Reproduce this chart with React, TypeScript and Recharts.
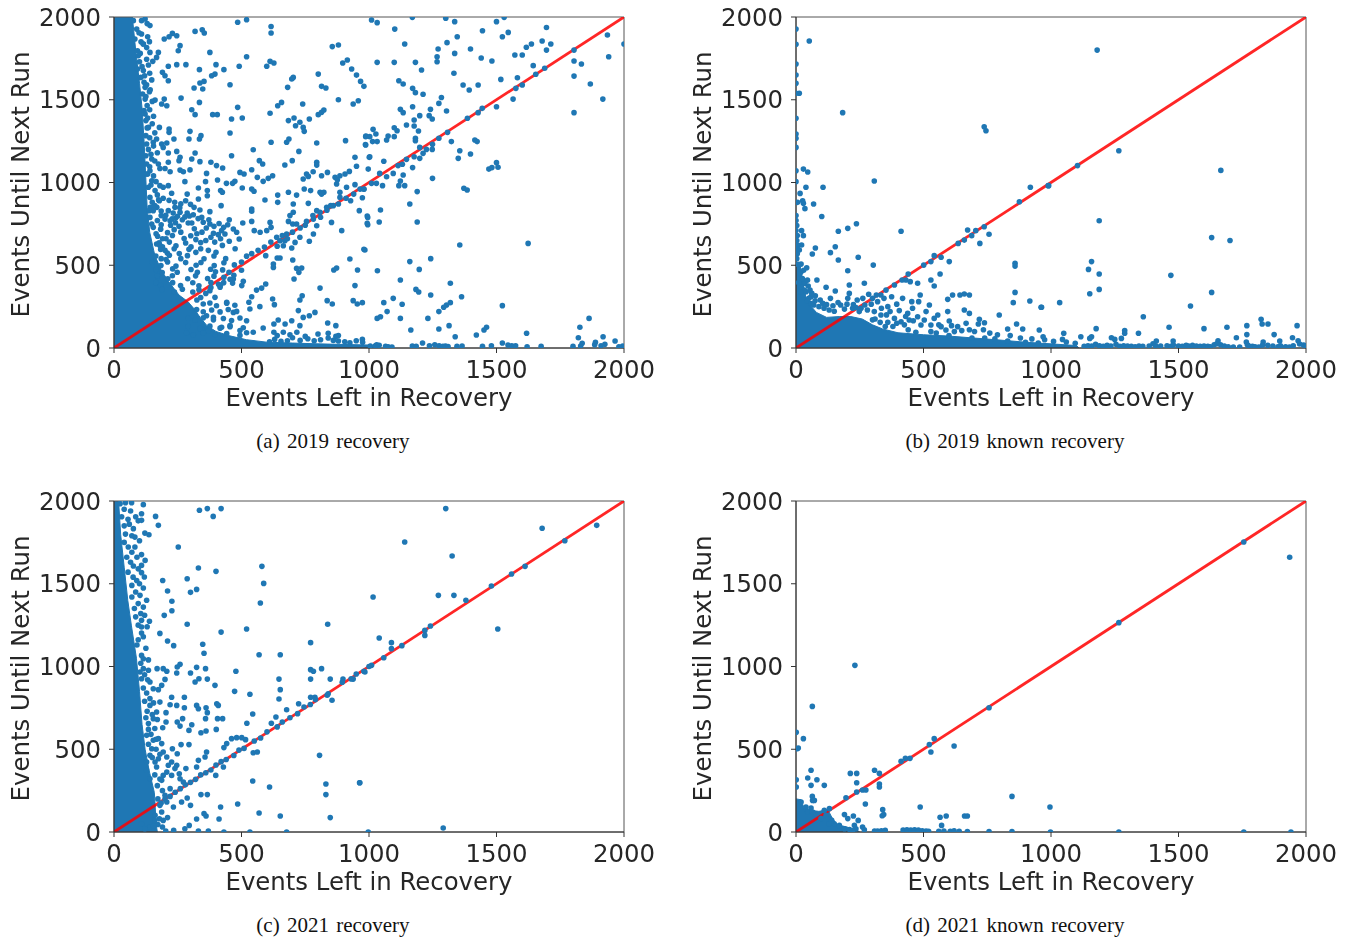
import React from "react";
import { ComposedChart, Area, Scatter, Line, XAxis, YAxis, ReferenceArea } from "recharts";

type P = [number, number];
const axisTicks = [0, 500, 1000, 1500, 2000];
const xLabel = "Events Left in Recovery";
const yLabel = "Events Until Next Run";
const captions = ["(a) 2019 recovery", "(b) 2019 known recovery", "(c) 2021 recovery", "(d) 2021 known recovery"];
const diagonal = [{ x: 0, y: 0 }, { x: 2000, y: 2000 }];

// Outlines of the areas where the dots merge into a solid mass.
const massA: P[] = [[0,2000],[72,2000],[85,1800],[100,1600],[110,1450],[118,1250],[124,1050],[130,850],[140,700],[160,560],[185,470],[215,400],[255,320],[290,280],[315,235],[340,180],[365,135],[400,100],[450,75],[520,50],[600,35],[700,30],[800,25],[1000,18],[1040,0]];
const massB: P[] = [[0,520],[15,510],[25,420],[35,320],[55,260],[80,215],[120,185],[170,190],[215,190],[260,175],[300,140],[340,115],[400,92],[500,80],[600,72],[700,60],[800,48],[900,35],[1000,25],[1100,15],[1110,0]];
const massC: P[] = [[0,2000],[18,2000],[26,1800],[40,1600],[54,1400],[68,1250],[88,1050],[100,850],[110,650],[122,500],[138,370],[158,240],[160,200],[165,50],[170,0]];
const massD: P[] = [[0,200],[20,195],[30,150],[60,130],[90,125],[125,135],[140,90],[160,45],[200,30],[240,10],[250,0]];

const pointsA: P[] = [
[485,1968],[520,1984],[616,1943],[616,1903],[318,1913],[346,1923],[354,1903],[229,1901],[216,1881],[197,1867],[246,1887],[259,1827],[252,1796],[139,1851],[115,1837],[141,1786],[174,1786],[167,1756],[152,1732],[376,1786],[520,1760],[282,1712],[246,1712],[213,1702],[190,1666],[200,1645],[213,1615],[335,1682],[400,1712],[431,1682],[491,1702],[396,1655],[383,1645],[455,1591],[337,1601],[353,1611],[314,1571],[348,1565],[599,1702],[612,1732],[627,1722],[703,1635],[697,1625],[681,1575],[801,1655],[814,1581],[831,1571],[856,1821],[880,1831],[897,1722],[915,1740],[932,1686],[951,1649],[967,1611],[980,1581],
[139,1549],[263,1510],[335,1484],[197,1504],[161,1498],[187,1474],[207,1464],[305,1440],[318,1410],[387,1410],[405,1410],[485,1454],[461,1384],[503,1390],[642,1464],[657,1484],[612,1418],[740,1474],[684,1374],[706,1390],[729,1364],[712,1343],[742,1333],[746,1309],[766,1384],[801,1410],[814,1424],[823,1438],[880,1500],[938,1474],[958,1494],
[298,1309],[294,1263],[335,1263],[341,1283],[455,1299],[178,1333],[216,1323],[216,1303],[235,1263],[167,1263],[154,1243],[187,1233],[207,1239],[193,1212],[246,1188],[213,1178],[318,1178],[259,1152],[255,1132],[305,1142],[461,1162],[546,1198],[616,1243],[677,1243],[686,1263],[795,1239],[908,1253],[987,1277],[987,1227],[725,1188],[699,1132],[670,1106],[570,1132],[583,1112],[795,1122],[795,1105],[945,1152],[951,1098],[1001,1152],
[148,1142],[174,1112],[213,1122],[200,1085],[220,1065],[259,1075],[272,1065],[337,1126],[380,1122],[402,1102],[426,1088],[298,1076],[363,1055],[494,1061],[510,1051],[540,1077],[562,1031],[585,1007],[605,1025],[622,1041],
[278,1005],[359,1005],[406,1015],[441,995],[465,995],[474,1007],[503,967],[540,961],[549,947],[592,894],[642,924],[642,880],[684,941],[716,924],[746,961],[771,951],[742,1021],[755,1051],[762,1037],[781,1065],[814,1041],[837,1061],[808,941],[823,941],[867,1031],[886,1041],[906,1051],[923,1067],[873,991],[886,941],[876,1017],[912,971],[945,987],[980,961],
[180,981],[193,971],[213,981],[226,935],[287,930],[331,967],[331,900],[366,951],[366,920],[418,951],[425,941],[420,860],[376,824],[337,834],[314,850],[287,816],[239,850],[213,830],[259,820],[242,785],[220,769],[200,779],[291,755],[305,755],[344,789],[376,749],[540,840],[540,826],[505,755],[540,765],[446,745],[422,709],[468,719],[481,699],[435,689],[390,693],[380,669],[409,685],[491,659],[550,709],[573,699],[599,709],[612,759],[616,729],[703,820],[690,800],[684,765],[701,749],[716,749],[755,765],[782,779],[762,874],[703,870],[795,830],[814,930],[808,820],[834,850],[860,860],[886,910],[928,890],[962,830],[995,789],[995,745],[853,759],[893,709],[795,739],[782,689],[766,645],[729,669],[710,638],[670,648],[651,648],[664,618],[697,604],[638,669],[677,689],
[984,592],[925,538],[955,471],[873,483],[862,471],[945,377],[938,286],[954,266],[808,362],[836,286],[856,266],[738,316],[729,290],[706,417],[736,483],[716,481],[725,457],[701,532],[640,544],[651,544],[625,487],[625,507],[595,558],[595,387],[579,362],[559,350],[540,310],[529,276],[622,296],[629,262],[572,250],[533,236],[723,226],[742,185],[766,195],[788,215],[697,165],[671,145],[644,169],[627,145],[585,121],[627,95],[664,95],[729,135],[717,95],[838,151],[870,135],[840,89],[880,75],
[501,377],[507,403],[468,417],[431,427],[416,367],[376,346],[396,306],[442,276],[468,215],[520,165],[494,105],[546,95],[455,135],[422,125],[363,195],[390,185],[344,115],[370,105],
[203,802],[228,781],[249,796],[268,775],[296,798],[222,742],[241,757],[255,735],[183,718],[210,697],[236,715],[262,700],[171,675],[204,660],[229,680],[275,662],[301,678],[321,655],[177,635],[190,612],[217,640],[243,618],[281,634],[302,611],[340,637],[183,595],[209,574],[236,600],[256,571],[294,596],[321,578],[164,556],[204,535],[217,560],[262,540],[288,558],[353,539],[392,556],[438,540],[150,518],[184,498],[210,520],[243,495],[281,516],[322,500],[341,517],[393,498],[431,515],[472,502],[165,475],[189,456],[230,478],[248,458],[302,474],[327,458],[379,476],[398,460],[426,472],[451,458],[170,436],[211,418],[229,437],[289,418],[320,436],[367,420],[392,434],[165,395],[183,378],[230,395],[261,378],[309,394],[333,376],[380,396],[418,380],[465,392],[189,354],[237,338],[268,355],[309,338],[333,352],
[193,905],[216,892],[238,880],[262,872],[281,890],[300,868],[175,895],[168,850],[185,828],[232,815],[258,848],[278,792],[311,805],[330,782],[350,760],[372,775],[392,735],[412,752],[430,730],[452,775],[345,700],[362,725],[325,690],[315,720],[360,650],[395,640],[418,660],[340,600],[370,590],[400,578],[425,620],[452,645],[475,600],[500,520],[520,555],[540,570],[565,590],[590,610],[615,640],[640,615],[660,680],[680,660],[700,700],[730,725],[750,742],[780,800],[810,790],[835,832],[850,860],[880,870],[910,905],[940,930],[965,960],[500,470],[470,440],[455,415],[430,395],[410,385],[380,365],[360,330],[340,305],[325,290],
[350,266],[376,272],[402,255],[442,270],[474,258],[324,232],[350,219],[383,230],[416,218],[448,233],[481,221],[291,180],[318,168],[350,182],[390,170],[429,178],[461,166],[494,181],[291,130],[337,118],[376,132],[416,120],[455,128],[507,122],[285,90],[311,78],[350,92],[396,80],[442,88],[494,76],[520,92],
[76,1978],[108,1978],[122,1988],[141,1948],[89,1927],[108,1897],[82,1867],[115,1837],[92,1796],[95,1766],[92,1686],[115,1676],[105,1635],[118,1605],[122,1575],[112,1535],[122,1504],[118,1434],[122,1414],[125,1374],[135,1333],[125,1283],[128,1233],[125,1162],[128,1112],[132,1051],[128,1051],[141,1071],[148,1011],[135,971],[161,951],[141,910],[142,850],[154,830],[138,830],[141,789],[148,749],[154,729],[167,628],
[130,1960],[98,1905],[132,1880],[106,1850],[128,1815],[103,1780],[128,1745],[100,1730],[135,1710],[110,1700],[140,1660],[120,1645],[148,1620],[128,1590],[142,1560],[125,1520],[150,1490],[130,1465],[140,1440],[155,1400],[132,1390],[150,1355],[130,1330],[160,1300],[140,1270],[155,1220],[135,1200],[170,1180],[145,1170],[160,1130],[140,1095],[180,1085],[155,1040],[165,1005],[145,985],[170,925],[150,880],[178,890],[160,860],[185,800],[170,770],[165,690],[185,745],[190,660],[180,620],[200,590],[185,540],
[1010,1982],[1032,1966],[1101,1927],[1140,1837],[1170,1998],[1301,1992],[1336,1972],[1346,1881],[1306,1845],[1271,1807],[1267,1760],[1267,1730],[1398,1807],[1336,1780],[1445,1917],[1500,1972],[1530,1998],[1523,1881],[1546,1907],[1696,1937],[1679,1855],[1713,1837],[1637,1837],[1617,1817],[1696,1800],[1572,1770],[1601,1770],[1804,1800],[1935,1891],[2000,1837],[1940,1760],[1804,1734],[1833,1716],[1804,1643],[1868,1595],[1917,1504],[1804,1422],[1032,1726],[1099,1726],[1182,1726],[1206,1680],[1333,1660],[1440,1752],[1482,1734],[1644,1706],[1689,1690],[1654,1654],[1582,1633],[1517,1623],[1601,1589],[1576,1569],[1565,1504],[1500,1458],[1428,1589],[1393,1559],[1369,1589],[1117,1615],[1134,1595],[1171,1569],[1182,1543],[1212,1533],[1284,1514],[1274,1478],[1241,1442],[1304,1432],[1171,1458],[1123,1442],[1134,1422],[1199,1404],[1236,1404],[1248,1384],[1177,1378],[1147,1347],[1177,1341],[1099,1331],[1110,1313],[1016,1321],[1194,1311],[1099,1277],[1075,1281],[1069,1257],[1027,1293],[988,1281],[1003,1277],[1014,1247],[1032,1247],[986,1229],[1182,1267],[1182,1252],[1274,1267],[1308,1303],[1386,1388],[1428,1422],[1444,1448],[1323,1247],[1249,1231],[1248,1200],[1225,1200],[1199,1212],[1212,1176],[1199,1146],[1177,1156],[1147,1140],[1415,1257],[1424,1247],[1356,1192],[1350,1146],[1398,1172],[1470,1081],[1482,1090],[1500,1120],[1506,1092],[1003,1156],[1058,1128],[997,1081],[1131,1110],[1114,1102],[1171,1090],[1042,1055],[1069,1035],[1095,1055],[1134,1045],[1249,1025],[1010,995],[1029,995],[1053,981],[1123,1009],[1117,981],[1140,981],[1189,945],[980,959],[974,908],[1372,965],[1385,955],[1160,870],[1045,834],[993,798],[993,753],[1040,761],[1189,761],[1356,622],[1624,632],[980,596],[1160,522],[1242,540],[1033,467],[1197,475],[1123,411],[1319,391],[1184,354],[1195,338],[1242,320],[1363,310],[1095,300],[974,274],[1058,274],[1130,264],[1319,274],[1304,260],[1293,246],[1274,220],[1523,256],[1071,220],[1032,179],[1045,189],[1123,179],[1231,179],[1863,179],[1314,135],[1274,115],[1164,109],[1461,125],[1451,109],[1421,79],[1827,125],[1618,89],[1338,68],[1821,62],[1918,68],[974,52],[1965,42],[1888,34],[1836,28],
[1005,12],[1025,14],[1040,16],[1065,10],[1170,12],[1185,11],[1210,30],[1237,14],[1258,20],[1275,13],[1290,10],[1300,12],[1310,9],[1345,10],[1365,12],[1445,11],[1480,14],[1523,30],[1545,18],[1560,14],[1575,14],[1620,8],[1675,10],[1800,10],[1830,12],[1885,20],[1910,14],[1925,22],[1995,12],[1980,8],
[610,38],[630,52],[655,40],[680,44],[700,62],[730,46],[760,56],[785,44],[810,50],[840,60],[860,46],[880,42],[905,38],[925,32],[950,44],[975,34],[1030,20],[1075,8],[1090,6],[640,75],[690,80],[750,70],[800,85],[870,70],
];

const pointsB: P[] = [
[0,1927],[0,1835],[52,1855],[0,1716],[0,1649],[0,1599],[0,1539],[13,1539],[0,1388],[0,1293],[0,1267],[0,1212],[183,1422],[738,1337],[745,1313],[29,1081],[46,1063],[0,1071],[307,1009],[0,1005],[39,971],[106,971],[16,934],[26,890],[29,874],[6,880],[69,870],[35,842],[101,795],[0,800],[0,770],[3,740],[0,710],[5,680],[3,650],[8,620],[0,600],[5,570],[3,540],[22,709],[29,679],[166,705],[203,723],[237,751],[412,705],[673,713],[738,733],[705,709],[689,679],[757,687],[721,632],[660,652],[636,632],[154,612],[76,604],[22,622],[13,592],[64,568],[135,576],[244,548],[166,532],[303,501],[203,467],[20,507],[8,505],[42,485],[20,460],[919,971],[989,981],[876,884],[859,512],[859,495],[859,336],[852,274],[917,284],[961,246],[797,199],[865,145],[830,115],[889,115],[954,109],[719,173],[739,153],[715,145],
[542,558],[569,548],[529,522],[601,522],[501,501],[440,447],[565,447],[529,411],[542,375],[431,411],[448,401],[477,391],[416,411],[386,381],[353,350],[333,320],[82,411],[118,367],[154,344],[209,381],[268,391],[209,330],[203,300],[76,316],[59,310],[135,300],[33,401],[33,350],[418,300],[487,320],[454,280],[481,280],[523,260],[595,294],[614,320],[643,320],[660,326],[680,320],[660,230],[680,209],[595,220],[556,199],[542,179],[601,163],[510,220],[457,240],[405,226],[369,220],[503,169],[477,189],[438,209],[444,169],[386,179],[412,159],[333,199],[307,220],[280,230],[248,220],[222,240],[490,139],[529,139],[569,129],[634,129],[667,149],[588,109],[621,99],[529,99],
[30,470],[15,450],[25,420],[35,390],[20,370],[40,340],[28,320],[50,300],[70,260],[90,250],[110,240],[130,230],[150,222],[175,260],[190,235],[235,245],[270,260],[300,300],[320,280],[285,325],[360,250],[310,175],[350,130],[380,130],[440,110],[470,95],[550,90],[600,75],[690,60],[740,60],[780,55],[830,42],[900,35],[950,30],
[45,410],[10,395],[48,375],[55,350],[18,340],[62,330],[45,285],[75,285],[95,290],[60,268],[105,270],[120,262],[145,255],[165,275],[200,265],[225,262],[255,240],[240,290],[262,300],[295,265],[315,320],[345,300],[375,310],[395,265],[335,240],[355,200],[430,190],[460,165],[395,150],[425,140],[360,155],[300,170],[330,155],[560,140],[610,135],[650,105],[700,100],[760,90],[790,80],[735,110],[680,110],[840,75],[880,60],[925,55],[975,50],[1010,40],[1060,36],[1095,28],
[1181,1800],[1266,1192],[1104,1102],[991,981],[1666,1073],[1189,769],[1630,667],[1702,650],[1159,522],[1147,475],[1189,447],[1470,439],[1189,354],[1152,328],[1630,336],[1034,274],[963,246],[1547,254],[1362,189],[1824,173],[1828,145],[1851,145],[1768,135],[1965,135],[1463,125],[1600,117],[1690,125],[1177,117],[1289,105],[1289,89],[1050,89],[1343,89],[1768,81],[1875,81],[969,68],[1117,68],[1159,68],[1152,58],[1237,62],[1250,52],[1276,58],[1727,62],[1947,62],[1045,52],[1413,42],[1479,42],[1655,44],[1969,44],[1897,42],[1766,36],[1832,36],
[1130,10],[1145,14],[1160,12],[1175,22],[1190,14],[1205,10],[1220,16],[1235,12],[1255,22],[1270,10],[1285,14],[1300,12],[1315,10],[1330,8],[1345,12],[1360,10],[1385,12],[1400,26],[1410,14],[1430,12],[1455,14],[1470,10],[1480,18],[1500,12],[1515,10],[1530,16],[1540,12],[1555,16],[1570,12],[1585,10],[1600,12],[1615,10],[1625,8],[1640,20],[1650,26],[1665,20],[1680,12],[1695,8],[1715,6],[1740,5],[1770,20],[1775,14],[1790,10],[1800,8],[1815,6],[1830,18],[1850,16],[1870,12],[1890,8],[1900,14],[1920,8],[1935,6],[1950,14],[1975,24],[1990,18],[2000,14],
];

const pointsC: P[] = [
[335,1944],[366,1954],[389,1907],[420,1954],[163,1907],[174,1853],[137,1796],[121,1806],[252,1722],[331,1595],[400,1575],[580,1605],[587,1502],[191,1520],[287,1530],[324,1466],[300,1448],[210,1456],[227,1394],[227,1337],[197,1309],[574,1384],[287,1255],[139,1273],[180,1200],[420,1208],[520,1227],[838,1255],[210,1154],[234,1126],[348,1134],[353,1080],[771,1144],[569,1071],[652,1071],[259,1013],[248,997],[324,995],[359,987],[300,961],[478,971],[771,981],[782,971],[814,987],[169,987],[193,987],[207,971],[135,977],[246,961],[333,926],[318,906],[366,924],[647,924],[771,924],[848,924],[898,924],[938,924],[984,967],[396,886],[473,850],[533,832],[652,860],[647,804],[771,814],[788,814],[836,826],[855,796],[724,775],[677,739],[635,695],[617,657],[544,713],[521,657],[200,922],[174,860],[187,886],[226,814],[276,814],[220,769],[246,765],[276,751],[324,765],[331,745],[361,751],[403,775],[409,765],[366,721],[359,685],[406,685],[426,685],[269,685],[248,665],[204,721],[259,640],[305,648],[294,614],[341,600],[361,610],[401,620],[191,630],[204,665],[442,534],[461,564],[481,570],[501,570],[516,558],[431,510],[263,528],[294,528],[363,483],[357,453],[331,433],[324,393],[282,383],[229,503],[248,473],[187,534],[154,554],[174,564],[193,483],[207,453],[226,423],[246,403],[256,352],[174,443],[193,342],[187,312],[546,479],[562,483],[806,463],[544,308],[610,272],[831,290],[831,226],[963,298],[341,226],[366,226],[485,169],[418,151],[569,115],[652,97],[848,87],[412,79],[324,79],[353,111],[361,97],[287,205],[265,181],[300,161],[233,151],[210,87],[193,70],[295,40],[278,20],[203,5],[234,10],[331,5],[370,5],[431,0],[533,0],[677,0],[108,50],[141,30],[121,20],[399,342],[429,393],
[200,200],[220,215],[240,240],[260,262],[280,285],[300,300],[320,318],[340,345],[360,358],[380,375],[400,405],[420,425],[440,438],[470,462],[490,495],[510,505],[550,550],[575,568],[600,605],[640,635],[660,665],[690,690],[720,715],[745,755],[770,770],[790,800],[840,835],[895,905],[930,925],[950,955],[1000,1000],
[24,1984],[69,1990],[115,1978],[108,1923],[108,1883],[76,1833],[82,1782],[56,1722],[82,1722],[108,1676],[122,1641],[108,1611],[76,1607],[108,1567],[119,1541],[89,1520],[115,1474],[102,1430],[128,1400],[115,1359],[108,1279],[108,1239],[108,1202],[95,1162],[108,1067],[115,1047],[102,967],[115,987],[108,926],[141,906],[154,866],[141,806],[180,785],[141,765],[167,725],[154,685],[135,655],[128,584],[148,503],[141,463],[128,423],[161,423],[128,373],[141,322],[167,393],[213,403],[207,362],[226,342],[239,383],[259,322],[272,302],[220,262],[200,222],[207,181],[180,161],[187,121],[161,101],
[45,1990],[40,1950],[65,1940],[30,1905],[55,1890],[85,1905],[40,1850],[60,1860],[95,1880],[45,1800],[70,1790],[100,1760],[40,1750],[70,1690],[90,1660],[50,1660],[65,1630],[95,1590],[55,1570],[75,1540],[100,1500],[70,1490],[85,1450],[70,1420],[95,1380],[80,1350],[105,1320],[85,1300],[95,1250],[120,1310],[130,1240],[115,1180],[90,1130],[125,1110],[135,1040],[105,1020],[120,950],[132,920],[115,870],[128,840],[120,790],[155,780],[130,730],[150,710],[125,690],[170,680],[135,620],[160,625],[145,590],[165,560],[135,530],[165,500],[150,450],[180,470],[160,345],[180,320],[170,280],[190,250],[172,200],[185,175],[178,80],[172,45],[160,70],[155,35],[190,30],
[1301,1954],[1140,1752],[1679,1835],[1893,1853],[1768,1760],[1326,1668],[1612,1605],[1559,1559],[1480,1486],[1016,1420],[1272,1430],[1333,1430],[1380,1400],[1505,1227],[1241,1245],[1219,1218],[1219,1188],[1040,1172],[1088,1144],[1088,1108],[1129,1126],[1058,1053],[1010,1007],[980,971],[964,298],[1291,24],[997,0],
];

const pointsD: P[] = [
[231,1007],[64,759],[1,602],[29,564],[9,507],[4,503],[542,564],[523,528],[529,483],[620,520],[757,751],[412,427],[429,445],[447,445],[59,373],[46,326],[82,316],[1,316],[1,272],[59,282],[111,282],[213,354],[238,354],[308,373],[327,354],[238,298],[327,290],[327,272],[238,242],[261,254],[274,254],[196,207],[64,215],[65,191],[72,191],[272,169],[847,215],[996,151],[487,151],[340,135],[344,105],[338,98],[190,105],[225,97],[203,81],[244,70],[565,89],[589,97],[661,97],[672,97],[571,40],[229,40],[235,20],[261,30],[268,14],[150,50],[170,40],[190,20],
[20,181],[39,151],[59,145],[46,121],[65,121],[111,131],[131,141],[118,101],[98,81],[140,70],[130,50],[210,15],[222,8],
[308,5],[320,6],[335,8],[350,10],[420,12],[435,14],[450,12],[465,14],[480,12],[495,8],[510,6],[520,4],[560,4],[580,5],[605,4],[620,8],[640,4],[672,3],[757,2],[847,2],
[998,0],[1266,0],[1756,0],[1941,0],[1266,1265],[1756,1752],[1936,1660],
];

const toRows = (pairs: P[]) => pairs.map(([x, y]) => ({ x, y }));

function Panel({ left, top, points, mass, caption }: { left: number; top: number; points: P[]; mass: P[]; caption: string }) {
  const tick = { fontFamily: "DejaVu Sans", fontSize: 24.4, fill: "#262626" };
  return (
    <div style={{ position: "absolute", left, top, width: 670, height: 460 }}>
      <div style={{ filter: "blur(0.55px)" }}>
        <ComposedChart width={670} height={420} data={toRows(mass)} margin={{ top: 17, right: 46, bottom: 0, left: 0 }}>
          <XAxis dataKey="x" type="number" domain={[0, 2000]} ticks={axisTicks} allowDataOverflow interval={0}
            tick={tick} tickSize={5} tickMargin={8} tickLine={{ stroke: "#333" }} axisLine={{ stroke: "#333" }} height={72}
            label={{ value: xLabel, position: "insideTop", offset: 41, style: { ...tick, textAnchor: "middle" } }} />
          <YAxis dataKey="y" type="number" domain={[0, 2000]} ticks={axisTicks} allowDataOverflow interval={0}
            tick={tick} tickSize={5} tickMargin={8} tickLine={{ stroke: "#333" }} axisLine={{ stroke: "#333" }} width={114}
            label={{ value: yLabel, angle: -90, position: "insideLeft", offset: 20, dy: 2, style: { ...tick, textAnchor: "middle" } }} />
          <Area dataKey="y" type="linear" fill="#1f77b4" fillOpacity={1} stroke="#1f77b4" strokeWidth={1} isAnimationActive={false} dot={false} activeDot={false} />
          <Scatter data={toRows(points)} fill="#1f77b4" isAnimationActive={false}
            shape={(p: any) => <circle cx={p.cx} cy={p.cy} r={2.8} fill="#1f77b4" />} />
          <Line data={diagonal} dataKey="y" stroke="#ff0000" strokeOpacity={0.85} strokeWidth={2.8} dot={false} activeDot={false} isAnimationActive={false} />
          <ReferenceArea x1={0} x2={2000} y1={0} y2={2000} fill="none" stroke="#555" strokeWidth={1} ifOverflow="visible" />
        </ComposedChart>
      </div>
      <div style={{ position: "absolute", left: 78, width: 510, top: 429, textAlign: "center", fontFamily: "Liberation Serif", fontSize: 21, color: "#111", wordSpacing: 2, whiteSpace: "nowrap" }}>{caption}</div>
    </div>
  );
}

export default function App() {
  return (
    <div style={{ position: "absolute", left: 0, top: 0, width: 1348, height: 940, background: "#fff", overflow: "hidden" }}>
      <Panel left={0} top={0} points={pointsA} mass={massA} caption={captions[0]} />
      <Panel left={682} top={0} points={pointsB} mass={massB} caption={captions[1]} />
      <Panel left={0} top={484} points={pointsC} mass={massC} caption={captions[2]} />
      <Panel left={682} top={484} points={pointsD} mass={massD} caption={captions[3]} />
    </div>
  );
}
